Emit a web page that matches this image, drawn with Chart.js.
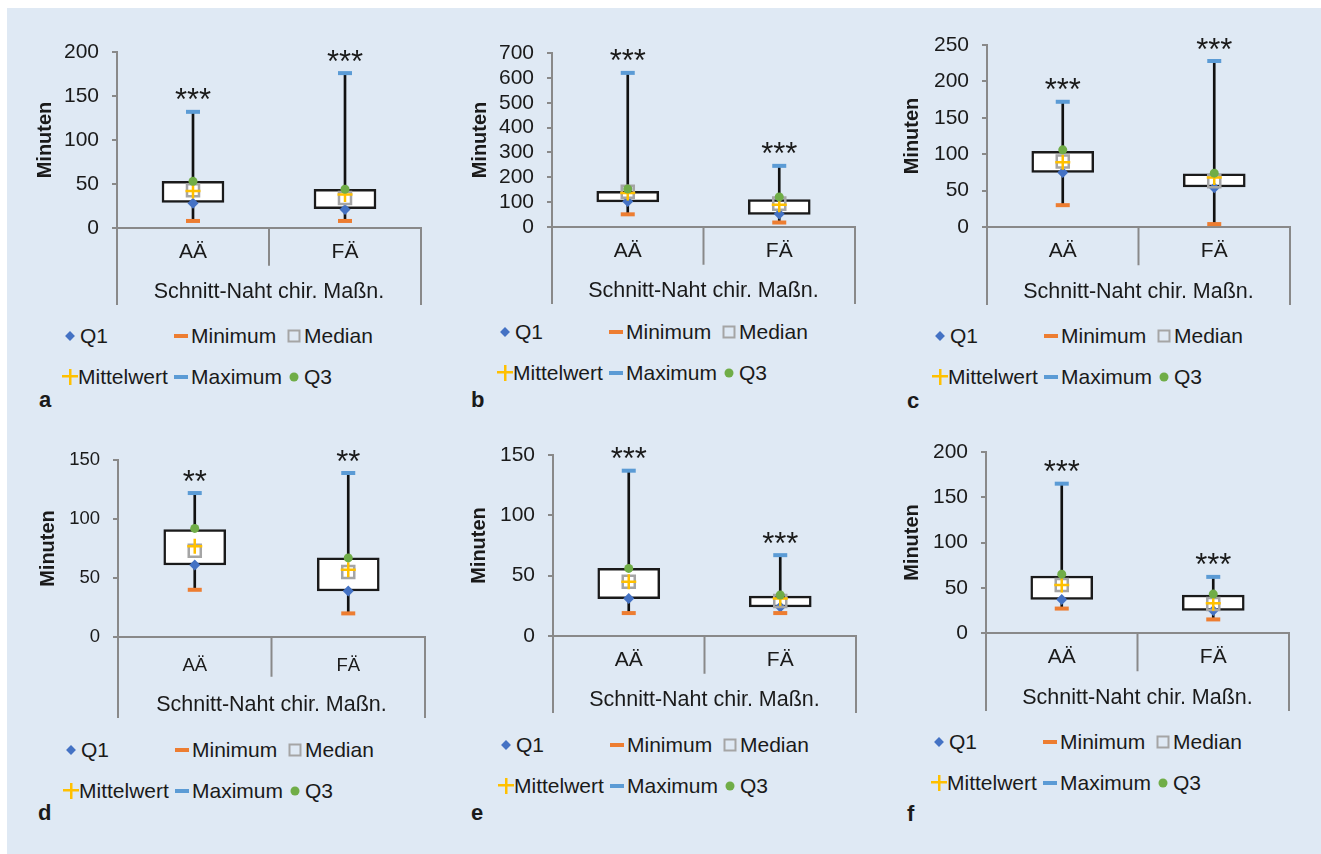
<!DOCTYPE html>
<html lang="de">
<head>
<meta charset="utf-8">
<title>Schnitt-Naht-Zeiten AÄ / FÄ</title>
<script src="https://cdn.jsdelivr.net/npm/chart.js@4.4.1/dist/chart.umd.min.js"></script>
<style>
  html, body { margin: 0; padding: 0; background: #fff; }
  #page { position: relative; width: 1321px; height: 854px; overflow: hidden;
          font-family: "Liberation Sans", Arial, sans-serif; color: #1a1a1a; }
  #bg { position: absolute; left: 7px; top: 8px; right: 0; bottom: 0; background: #dfe9f4; }
  canvas { position: absolute; }
  .leg { position: absolute; font-size: 21px; line-height: 24px; white-space: nowrap; }
  .mk { position: absolute; }
  .letter { position: absolute; font-weight: bold; font-size: 22px; line-height: 22px; }
</style>
</head>
<body>
<div id="page"><div id="bg"></div></div>
<script>
// data (a-f), each pair = [AÄ, FÄ]
const categories = ['AÄ', 'FÄ'];
const panelLetters = ['a', 'b', 'c', 'd', 'e', 'f'];
const q1 = [[28, 21], [103, 52], [75, 54], [61, 39], [31, 24], [37, 25]];
const minimum = [[8, 8], [51, 18], [30, 4], [40, 20], [19, 19], [27, 15]];
const median = [[43, 34], [142, 94], [90, 63], [73, 55], [45, 29], [53, 32]];
const mean = [[42, 38], [137, 90], [89, 68], [77, 57], [45, 31], [53, 33]];
const maximum = [[132, 176], [620, 246], [172, 228], [122, 139], [137, 67], [165, 62]];
const q3 = [[53, 44], [153, 121], [106, 74], [92, 67], [56, 34], [65, 43]];
const boxLow = [[29, 22], [101, 51], [75, 55], [61, 39], [31, 24], [37, 25]];
const boxHigh = [[53, 44], [144, 110], [104, 73], [91, 67], [56, 33], [63, 42]];
const yMax = [200, 700, 250, 150, 150, 200];
const yStep = [50, 100, 50, 50, 50, 50];
const stars = [['***', '***'], ['***', '***'], ['***', '***'], ['**', '**'], ['***', '***'], ['***', '***']];

// page geometry of each panel
const layouts = [
  { left: 117, right: 424, top: 52, bottom: 228, axisBottom: 305, titleX: 45, legendY: 336, letterX: 39, letterBase: 408, small: false },
  { left: 552, right: 858, top: 53, bottom: 227, axisBottom: 304, titleX: 480, legendY: 332, letterX: 471, letterBase: 408, small: false },
  { left: 987, right: 1293, top: 45, bottom: 227, axisBottom: 305, titleX: 912, legendY: 336, letterX: 907, letterBase: 409, small: false },
  { left: 118, right: 428, top: 460, bottom: 637, axisBottom: 718, titleX: 48, legendY: 750, letterX: 38, letterBase: 821, small: true },
  { left: 553, right: 859, top: 455, bottom: 636, axisBottom: 713, titleX: 479, legendY: 745, letterX: 471, letterBase: 821, small: false },
  { left: 986, right: 1292, top: 452, bottom: 633, axisBottom: 711, titleX: 912, legendY: 742, letterX: 907, letterBase: 822, small: false },
];

const GRID = '#898989';
const TEXT = '#1a1a1a';
const FONT = '"Liberation Sans", Arial, sans-serif';
const COLORS = { q1: '#4472c4', min: '#ed7d31', median: '#a5a5a5', mean: '#ffc000', max: '#5b9bd5', q3: '#70ad47' };

// Excel-style category frame: long outer lines, short divider between groups
const framePlugin = {
  id: 'frame',
  afterDraw(chart) {
    const { ctx, chartArea } = chart;
    const x = chart.scales.x;
    const mid = (x.getPixelForValue(0) + x.getPixelForValue(1)) / 2;
    const depth = x.bottom - chartArea.bottom;
    ctx.save();
    ctx.strokeStyle = GRID;
    ctx.lineWidth = 2;
    ctx.beginPath();
    ctx.moveTo(chartArea.left, chartArea.bottom);
    ctx.lineTo(chartArea.left, x.bottom);
    ctx.moveTo(mid, chartArea.bottom);
    ctx.lineTo(mid, chartArea.bottom + depth * 0.49);
    ctx.moveTo(chartArea.right, chartArea.bottom);
    ctx.lineTo(chartArea.right, x.bottom);
    ctx.stroke();
    ctx.restore();
  }
};

// significance stars above the maximum marker
const starsPlugin = {
  id: 'stars',
  afterDatasetsDraw(chart, args, opts) {
    const { ctx } = chart;
    const meta = chart.getDatasetMeta(opts.maxIndex);
    ctx.save();
    ctx.font = '31px ' + FONT;
    ctx.fillStyle = TEXT;
    ctx.textAlign = 'center';
    ctx.textBaseline = 'middle';
    meta.data.forEach((pt, i) => ctx.fillText(opts.labels[i], pt.x, pt.y - 10));
    ctx.restore();
  }
};

function markerSet(label, values, style, order) {
  return Object.assign({
    type: 'line',
    label: label,
    data: values,
    showLine: false,
    order: order,
  }, style);
}

function buildPanel(p) {
  const L = layouts[p];
  const page = document.getElementById('page');
  const canvas = document.createElement('canvas');
  const cLeft = L.left - 110;
  const cTop = L.top - 40;
  const w = L.right + 8 - cLeft;
  const h = L.axisBottom + 4 - cTop;
  canvas.width = w;
  canvas.height = h;
  canvas.style.left = cLeft + 'px';
  canvas.style.top = cTop + 'px';
  canvas.style.width = w + 'px';
  canvas.style.height = h + 'px';
  page.appendChild(canvas);

  const tickSize = L.small ? 18.5 : 21;

  new Chart(canvas, {
    type: 'bar',
    data: {
      labels: categories,
      datasets: [
        {
          label: 'Spannweite',
          data: minimum[p].map((m, i) => [m, maximum[p][i]]),
          backgroundColor: '#111',
          borderWidth: 0,
          barThickness: 2,
          grouped: false,
          order: 9,
        },
        {
          label: 'Box',
          data: boxLow[p].map((lo, i) => [lo, boxHigh[p][i]]),
          backgroundColor: '#ffffff',
          borderColor: '#1a1a1a',
          borderWidth: 2.5,
          borderSkipped: false,
          barThickness: 62,
          grouped: false,
          order: 8,
        },
        markerSet('Q1', q1[p], { pointStyle: 'rectRot', pointRadius: 5.5, pointBorderWidth: 0, pointBackgroundColor: COLORS.q1, pointBorderColor: COLORS.q1 }, 6),
        markerSet('Minimum', minimum[p], { pointStyle: 'line', pointRadius: 7, pointBorderWidth: 4, pointBorderColor: COLORS.min }, 5),
        markerSet('Median', median[p], { pointStyle: 'rect', pointRadius: 8.5, pointBorderWidth: 2.5, pointBackgroundColor: 'rgba(0,0,0,0)', pointBorderColor: COLORS.median }, 4),
        markerSet('Mittelwert', mean[p], { pointStyle: 'cross', pointRadius: 7.5, pointBorderWidth: 2.5, pointBorderColor: COLORS.mean }, 3),
        markerSet('Maximum', maximum[p], { pointStyle: 'line', pointRadius: 7, pointBorderWidth: 4, pointBorderColor: COLORS.max }, 2),
        markerSet('Q3', q3[p], { pointStyle: 'circle', pointRadius: 4.5, pointBorderWidth: 0, pointBackgroundColor: COLORS.q3, pointBorderColor: COLORS.q3 }, 1),
      ],
    },
    options: {
      responsive: false,
      animation: false,
      events: [],
      layout: { padding: { left: 0, top: 40, right: 8, bottom: 4 } },
      plugins: {
        legend: { display: false },
        tooltip: { enabled: false },
        stars: { maxIndex: 6, labels: stars[p] },
      },
      scales: {
        x: {
          offset: true,
          grid: { display: false, drawTicks: false },
          border: { display: true, color: GRID, width: 2 },
          ticks: { color: TEXT, font: { family: FONT, size: tickSize }, padding: L.small ? 18 : 12 },
          title: {
            display: true,
            text: 'Schnitt-Naht chir. Maßn.',
            color: TEXT,
            font: { family: FONT, size: 21.5 },
            padding: { top: 0, bottom: 0 },
          },
          afterFit(scale) { scale.height = L.axisBottom - L.bottom; },
        },
        y: {
          min: 0,
          max: yMax[p],
          ticks: { stepSize: yStep[p], autoSkip: false, color: TEXT, font: { family: FONT, size: tickSize }, padding: 13 },
          grid: { drawOnChartArea: false, drawTicks: true, tickLength: 5, color: GRID, lineWidth: 2 },
          border: { display: true, color: GRID, width: 2 },
          title: {
            display: true,
            text: 'Minuten',
            color: TEXT,
            font: { family: FONT, size: 20, weight: 'bold' },
            padding: { top: L.titleX - cLeft - 12, bottom: 0 },
          },
          afterFit(scale) { scale.width = 110; },
        },
      },
    },
    plugins: [framePlugin, starsPlugin],
  });

  buildLegend(page, L);

  const letter = document.createElement('div');
  letter.className = 'letter';
  letter.textContent = panelLetters[p];
  letter.style.left = L.letterX + 'px';
  letter.style.top = (L.letterBase - 19) + 'px';
  page.appendChild(letter);
}

function marker(kind) {
  const m = document.createElement('div');
  m.className = 'mk';
  const s = m.style;
  if (kind === 'q1') {
    s.width = '7px'; s.height = '7px'; s.background = COLORS.q1;
    s.transform = 'translate(-50%,-50%) rotate(45deg)';
  } else if (kind === 'min' || kind === 'max') {
    s.width = '14px'; s.height = '4px'; s.background = COLORS[kind];
    s.transform = 'translate(-50%,-50%)';
  } else if (kind === 'median') {
    s.width = '9px'; s.height = '9px'; s.border = '2.5px solid ' + COLORS.median;
    s.transform = 'translate(-50%,-50%)';
  } else if (kind === 'mean') {
    s.width = '16px'; s.height = '16px';
    s.background = 'linear-gradient(' + COLORS.mean + ',' + COLORS.mean + ') center/16px 2.5px no-repeat,' +
                   'linear-gradient(' + COLORS.mean + ',' + COLORS.mean + ') center/2.5px 16px no-repeat';
    s.transform = 'translate(-50%,-50%)';
  } else if (kind === 'q3') {
    s.width = '9px'; s.height = '9px'; s.borderRadius = '50%'; s.background = COLORS.q3;
    s.transform = 'translate(-50%,-50%)';
  }
  return m;
}

function buildLegend(page, L) {
  const rows = [
    [['Q1', 'q1'], ['Minimum', 'min'], ['Median', 'median']],
    [['Mittelwert', 'mean'], ['Maximum', 'max'], ['Q3', 'q3']],
  ];
  const cols = [-47, 64, 177];
  rows.forEach((row, r) => {
    const y = L.legendY + r * 40.5;
    row.forEach(([label, kind], c) => {
      const cx = L.left + cols[c];
      const m = marker(kind);
      m.style.left = cx + 'px';
      m.style.top = y + 'px';
      page.appendChild(m);
      const t = document.createElement('div');
      t.className = 'leg';
      t.textContent = label;
      t.style.left = (cx + (kind === 'mean' ? 8 : 10)) + 'px';
      t.style.top = (y - 12) + 'px';
      page.appendChild(t);
    });
  });
}

for (let p = 0; p < 6; p++) buildPanel(p);
</script>
</body>
</html>
